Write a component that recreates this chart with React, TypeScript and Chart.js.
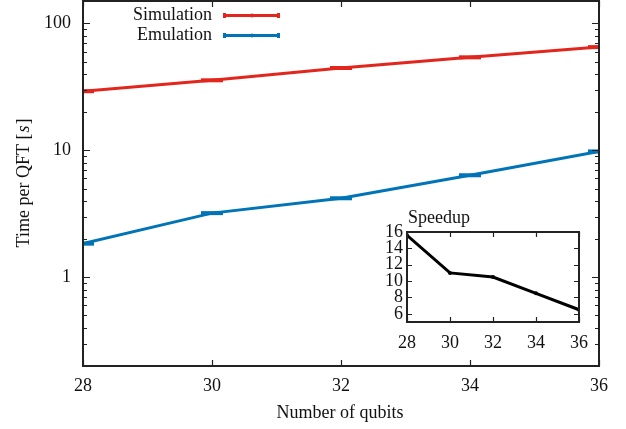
import React, { useEffect, useRef } from "react";
import { Chart, registerables } from "chart.js";

Chart.register(...registerables);

// ---- data ----
const qubits = [28, 30, 32, 34, 36];
const simulationTimes = [29.2, 35.6, 44.5, 54.0, 65.0];
const emulationTimes = [1.84, 3.2, 4.19, 6.36, 9.8];
const speedupValues = [15.6, 11.0, 10.5, 8.5, 6.5];
const xTickValues = [28, 30, 32, 34, 36];
const yMajorTicks = [1, 10, 100];
const insetYTicks = [6, 8, 10, 12, 14, 16];
const seriesNames = ["Simulation", "Emulation"];

const RED = "#e2261d";
const BLUE = "#0074b6";
const AXIS = "#222222";
const FONT = "'Liberation Serif', 'Times New Roman', serif";

const W = 626;
const H = 429;

const mainPlugin = {
  id: "mainDecor",
  afterDraw(chart: any) {
    const { ctx, chartArea: a, scales } = chart;
    const xs = scales.x;
    const ys = scales.y;
    ctx.save();
    ctx.strokeStyle = AXIS;
    ctx.lineWidth = 1.2;
    xTickValues.forEach((v) => {
      const px = Math.round(xs.getPixelForValue(v)) + 0.5;
      ctx.beginPath();
      ctx.moveTo(px, a.bottom);
      ctx.lineTo(px, a.bottom - 6);
      ctx.moveTo(px, a.top);
      ctx.lineTo(px, a.top + 6);
      ctx.stroke();
    });
    for (let e = -1; e <= 2; e++) {
      for (let k = 1; k <= 9; k++) {
        const v = k * Math.pow(10, e);
        if (v < ys.min || v > ys.max) continue;
        const py = Math.round(ys.getPixelForValue(v)) + 0.5;
        const len = k === 1 ? 7 : 4;
        ctx.beginPath();
        ctx.moveTo(a.left, py);
        ctx.lineTo(a.left + len, py);
        ctx.moveTo(a.right, py);
        ctx.lineTo(a.right - len, py);
        ctx.stroke();
      }
    }
    ctx.lineWidth = 2;
    ctx.strokeRect(a.left, a.top, a.right - a.left, a.bottom - a.top);

    ctx.fillStyle = "#111";
    ctx.font = `18px ${FONT}`;
    ctx.textAlign = "center";
    ctx.textBaseline = "middle";
    ctx.fillText("Number of qubits", 340, 413);

    ctx.save();
    ctx.translate(24, 183);
    ctx.rotate(-Math.PI / 2);
    const p1 = "Time per QFT [";
    const p2 = "s";
    const p3 = "]";
    ctx.font = `18px ${FONT}`;
    const w1 = ctx.measureText(p1).width;
    const w3 = ctx.measureText(p3).width;
    ctx.font = `italic 18px ${FONT}`;
    const w2 = ctx.measureText(p2).width + 2;
    const total = w1 + w2 + w3;
    const x0 = -total / 2;
    ctx.textAlign = "left";
    ctx.font = `18px ${FONT}`;
    ctx.fillText(p1, x0, 0);
    ctx.font = `italic 18px ${FONT}`;
    ctx.fillText(p2, x0 + w1 + 1, 0);
    ctx.font = `18px ${FONT}`;
    ctx.fillText(p3, x0 + w1 + w2, 0);
    ctx.restore();

    const colors = [RED, BLUE];
    const ly = [15, 35];
    seriesNames.forEach((name, i) => {
      ctx.fillStyle = "#111";
      ctx.font = `18px ${FONT}`;
      ctx.textAlign = "right";
      ctx.textBaseline = "middle";
      ctx.fillText(name, 212, ly[i]);
      ctx.strokeStyle = colors[i];
      ctx.lineWidth = 3;
      ctx.beginPath();
      ctx.moveTo(224, ly[i] + 0.5);
      ctx.lineTo(279, ly[i] + 0.5);
      ctx.stroke();
      ctx.fillStyle = colors[i];
      ctx.fillRect(223, ly[i] - 2, 3, 5);
      ctx.fillRect(277, ly[i] - 2, 3, 5);
      ctx.beginPath();
      ctx.arc(252, ly[i] + 0.5, 2, 0, Math.PI * 2);
      ctx.fill();
    });
    ctx.restore();
  },
};

const insetPlugin = {
  id: "insetDecor",
  afterDraw(chart: any) {
    const { ctx, chartArea: a, scales } = chart;
    const xs = scales.x;
    const ys = scales.y;
    ctx.save();
    ctx.strokeStyle = AXIS;
    ctx.lineWidth = 1.2;
    xTickValues.forEach((v) => {
      const px = Math.round(xs.getPixelForValue(v)) + 0.5;
      ctx.beginPath();
      ctx.moveTo(px, a.bottom);
      ctx.lineTo(px, a.bottom - 5);
      ctx.moveTo(px, a.top);
      ctx.lineTo(px, a.top + 5);
      ctx.stroke();
    });
    insetYTicks.forEach((v) => {
      const py = Math.round(ys.getPixelForValue(v)) + 0.5;
      ctx.beginPath();
      ctx.moveTo(a.left, py);
      ctx.lineTo(a.left + 5, py);
      ctx.moveTo(a.right, py);
      ctx.lineTo(a.right - 5, py);
      ctx.stroke();
    });
    ctx.lineWidth = 2;
    ctx.strokeRect(a.left, a.top, a.right - a.left, a.bottom - a.top);
    ctx.fillStyle = "#111";
    ctx.font = `18px ${FONT}`;
    ctx.textAlign = "left";
    ctx.textBaseline = "middle";
    ctx.fillText("Speedup", a.left + 1, a.top - 14);
    ctx.restore();
  },
};

function pts(ys: number[]) {
  return qubits.map((q, i) => ({ x: q, y: ys[i] }));
}

export default function App() {
  const mainRef = useRef<HTMLCanvasElement>(null);
  const insetRef = useRef<HTMLCanvasElement>(null);

  useEffect(() => {
    document.body.style.margin = "0";
    const tickFont = { family: FONT, size: 18 };
    const main = new Chart(mainRef.current!, {
      type: "line",
      data: {
        datasets: [
          {
            label: seriesNames[0],
            data: pts(simulationTimes),
            borderColor: RED,
            backgroundColor: RED,
            borderWidth: 3,
            pointStyle: "line",
            pointRadius: 11,
            pointBorderWidth: 4,
            pointBorderColor: RED,
          },
          {
            label: seriesNames[1],
            data: pts(emulationTimes),
            borderColor: BLUE,
            backgroundColor: BLUE,
            borderWidth: 3,
            pointStyle: "line",
            pointRadius: 11,
            pointBorderWidth: 4,
            pointBorderColor: BLUE,
          },
        ],
      },
      options: {
        animation: false,
        responsive: false,
        events: [],
        layout: { autoPadding: false, padding: { left: 0, right: 27, top: 1, bottom: 0 } },
        plugins: { legend: { display: false }, tooltip: { enabled: false }, title: { display: false } },
        scales: {
          x: {
            type: "linear",
            min: 28,
            max: 36,
            grid: { display: false, drawTicks: false },
            border: { display: false },
            afterBuildTicks: (s: any) => {
              s.ticks = xTickValues.map((v) => ({ value: v }));
            },
            afterFit: (s: any) => {
              s.height = 63;
              s.paddingLeft = 0;
              s.paddingRight = 0;
            },
            ticks: {
              font: tickFont,
              color: "#111",
              padding: 9,
              maxRotation: 0,
              autoSkip: false,
              callback: (v: any) => String(v),
            },
          },
          y: {
            type: "logarithmic",
            min: 0.2,
            max: 150,
            grid: { display: false, drawTicks: false },
            border: { display: false },
            afterBuildTicks: (s: any) => {
              s.ticks = yMajorTicks.map((v) => ({ value: v }));
            },
            afterFit: (s: any) => {
              s.width = 83;
              s.paddingTop = 0;
              s.paddingBottom = 0;
            },
            ticks: {
              font: tickFont,
              color: "#111",
              padding: 12,
              autoSkip: false,
              callback: (v: any) => String(v),
            },
          },
        },
      },
      plugins: [mainPlugin],
    } as any);

    const inset = new Chart(insetRef.current!, {
      type: "line",
      data: {
        datasets: [
          {
            label: "Speedup",
            data: pts(speedupValues),
            borderColor: "#000",
            backgroundColor: "#000",
            borderWidth: 3,
            pointStyle: "circle",
            pointRadius: 2,
            pointBorderWidth: 0,
            pointBackgroundColor: "#000",
          },
        ],
      },
      options: {
        animation: false,
        responsive: false,
        events: [],
        layout: { autoPadding: false, padding: { left: 0, right: 18, top: 32, bottom: 0 } },
        plugins: { legend: { display: false }, tooltip: { enabled: false } },
        scales: {
          x: {
            type: "linear",
            min: 28,
            max: 36,
            grid: { display: false, drawTicks: false },
            border: { display: false },
            afterBuildTicks: (s: any) => {
              s.ticks = xTickValues.map((v) => ({ value: v }));
            },
            afterFit: (s: any) => {
              s.height = 33;
              s.paddingLeft = 0;
              s.paddingRight = 0;
            },
            ticks: {
              font: tickFont,
              color: "#111",
              padding: 10,
              maxRotation: 0,
              autoSkip: false,
              callback: (v: any) => String(v),
            },
          },
          y: {
            type: "linear",
            min: 5,
            max: 16,
            grid: { display: false, drawTicks: false },
            border: { display: false },
            afterBuildTicks: (s: any) => {
              s.ticks = insetYTicks.map((v) => ({ value: v }));
            },
            afterFit: (s: any) => {
              s.width = 37;
              s.paddingTop = 0;
              s.paddingBottom = 0;
            },
            ticks: {
              font: tickFont,
              color: "#111",
              padding: 4,
              autoSkip: false,
              callback: (v: any) => String(v),
            },
          },
        },
      },
      plugins: [insetPlugin],
    } as any);

    return () => {
      main.destroy();
      inset.destroy();
    };
  }, []);

  return (
    <div style={{ position: "relative", width: W, height: H, background: "#fff" }}>
      <canvas
        ref={mainRef}
        width={W}
        height={H}
        style={{ position: "absolute", left: 0, top: 0, width: W, height: H }}
      />
      <canvas
        ref={insetRef}
        width={227}
        height={155}
        style={{ position: "absolute", left: 370, top: 200, width: 227, height: 155 }}
      />
    </div>
  );
}
